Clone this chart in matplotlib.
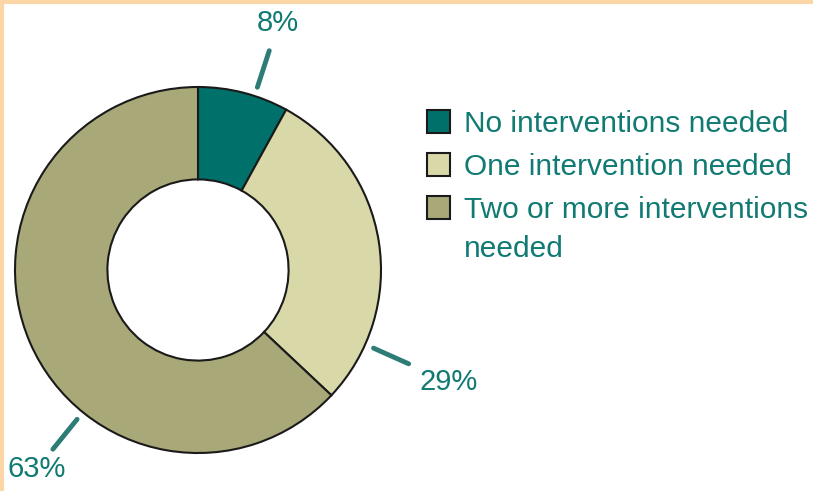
import numpy as np
import matplotlib.pyplot as plt

plt.rcParams['font.family'] = ['Liberation Sans', 'DejaVu Sans']

# data
categories = ['No interventions needed', 'One intervention needed',
              'Two or more interventions']
wrap_tail = 'needed'   # second line of the last legend entry
shares = [8, 29, 63]
labels = ['8%', '29%', '63%']
colors = ['#00706B', '#D9D8A9', '#A9A879']
txt_col = '#107A73'

# where the leader lines sit (degrees, from +x axis) and how far out the text goes
label_ang = [72, -24, 231]
text_r = [1.42, 1.50, 1.40]

fig = plt.figure(figsize=(8.13, 4.91), dpi=100)
ax = fig.add_axes([0, 0, 1, 1])

cx, cy, R = 198, 491 - 270, 183
wedges, _ = ax.pie(shares, colors=colors, startangle=90, counterclock=False,
                   radius=R, center=(cx, cy), frame=True,
                   wedgeprops=dict(width=R * 0.505, edgecolor='#1a1a1a', linewidth=1.5))
ax.set_xlim(0, 813)
ax.set_ylim(0, 491)
ax.set_aspect('auto')
ax.axis('off')

for ang, lab, tr in zip(label_ang, labels, text_r):
    a = np.deg2rad(ang)
    r0, r1 = R * 1.05, R * 1.26
    ax.plot([cx + r0 * np.cos(a), cx + r1 * np.cos(a)],
            [cy + r0 * np.sin(a), cy + r1 * np.sin(a)],
            color='#2E7C76', lw=3.5, solid_capstyle='round')
    ax.text(cx + R * tr * np.cos(a), cy + R * tr * np.sin(a), lab,
            color=txt_col, fontsize=21, ha='center', va='center')

leg = ax.legend(wedges, categories, loc='upper left',
                bbox_to_anchor=(427 / 813, 1 - 110 / 491),
                frameon=False, fontsize=21.5, labelcolor=txt_col,
                handlelength=0.78, handleheight=0.78, handletextpad=0.45,
                labelspacing=0.5, borderpad=0, borderaxespad=0)
for h in leg.legend_handles:
    h.set_edgecolor('#1a1a1a')
    h.set_linewidth(1.5)

# wrapped second line under the last legend label
fig.canvas.draw()
bb = leg.get_texts()[-1].get_window_extent()
ax.text(bb.x0, bb.y0 - 39, wrap_tail, transform=None, color=txt_col,
        fontsize=21.5, ha='left', va='bottom')

# faint orange frame on top and left
fig.add_artist(plt.Line2D([0, 1], [1 - 1.5 / 491, 1 - 1.5 / 491], color='#FDD6A8', lw=3, transform=fig.transFigure))
fig.add_artist(plt.Line2D([1.5 / 813, 1.5 / 813], [0, 1], color='#FDD6A8', lw=3, transform=fig.transFigure))

fig.savefig('out.png', dpi=100)
